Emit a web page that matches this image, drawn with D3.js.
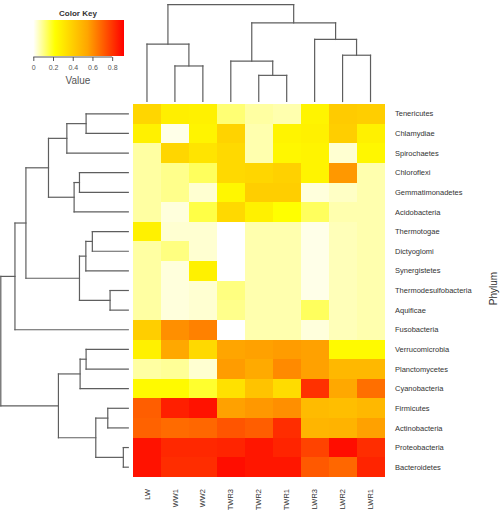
<!DOCTYPE html>
<html>
<head>
<meta charset="utf-8">
<script src="https://cdn.jsdelivr.net/npm/d3@7/dist/d3.min.js"></script>
<style>
  html, body { margin: 0; padding: 0; background: #fff; }
  svg { display: block; font-family: "Liberation Sans", Arial, sans-serif; }
</style>
</head>
<body>
<svg id="chart" width="501" height="515"></svg>
<script>
// ---------------- DATA ----------------
const columns = ["LW", "WW1", "WW2", "TWR3", "TWR2", "TWR1", "LWR3", "LWR2", "LWR1"];
const rows = ["Tenericutes", "Chlamydiae", "Spirochaetes", "Chloroflexi", "Gemmatimonadetes",
  "Acidobacteria", "Thermotogae", "Dictyoglomi", "Synergistetes", "Thermodesulfobacteria",
  "Aquificae", "Fusobacteria", "Verrucomicrobia", "Planctomycetes", "Cyanobacteria",
  "Firmicutes", "Actinobacteria", "Proteobacteria", "Bacteroidetes"];

// values per row, in column order
const Tenericutes          = [0.37, 0.28, 0.27, 0.12, 0.08, 0.07, 0.26, 0.41, 0.40];
const Chlamydiae           = [0.27, 0.02, 0.26, 0.38, 0.07, 0.26, 0.27, 0.40, 0.27];
const Spirochaetes         = [0.08, 0.37, 0.32, 0.36, 0.07, 0.25, 0.26, 0.04, 0.25];
const Chloroflexi          = [0.08, 0.10, 0.14, 0.36, 0.37, 0.39, 0.26, 0.58, 0.07];
const Gemmatimonadetes     = [0.08, 0.10, 0.04, 0.25, 0.40, 0.40, 0.03, 0.05, 0.07];
const Acidobacteria        = [0.08, 0.03, 0.16, 0.36, 0.27, 0.22, 0.14, 0.07, 0.07];
const Thermotogae          = [0.27, 0.04, 0.04, 0.00, 0.07, 0.07, 0.02, 0.06, 0.07];
const Dictyoglomi          = [0.08, 0.11, 0.04, 0.00, 0.07, 0.07, 0.02, 0.06, 0.07];
const Synergistetes        = [0.08, 0.03, 0.27, 0.00, 0.07, 0.07, 0.02, 0.06, 0.07];
const Thermodesulfobacteria= [0.08, 0.03, 0.04, 0.11, 0.07, 0.07, 0.02, 0.06, 0.07];
const Aquificae            = [0.08, 0.03, 0.04, 0.10, 0.07, 0.07, 0.14, 0.06, 0.07];
const Fusobacteria         = [0.40, 0.60, 0.63, 0.00, 0.07, 0.07, 0.03, 0.06, 0.07];
const Verrucomicrobia      = [0.27, 0.54, 0.36, 0.55, 0.56, 0.57, 0.56, 0.24, 0.24];
const Planctomycetes       = [0.08, 0.09, 0.04, 0.57, 0.53, 0.61, 0.56, 0.48, 0.48];
const Cyanobacteria        = [0.24, 0.24, 0.18, 0.33, 0.44, 0.35, 0.81, 0.54, 0.67];
const Firmicutes           = [0.71, 0.85, 0.88, 0.56, 0.58, 0.60, 0.47, 0.46, 0.48];
const Actinobacteria       = [0.70, 0.68, 0.69, 0.73, 0.71, 0.82, 0.49, 0.50, 0.56];
const Proteobacteria       = [0.88, 0.83, 0.83, 0.84, 0.87, 0.84, 0.77, 0.89, 0.82];
const Bacteroidetes        = [0.88, 0.82, 0.82, 0.89, 0.87, 0.87, 0.72, 0.69, 0.84];

const values = [Tenericutes, Chlamydiae, Spirochaetes, Chloroflexi, Gemmatimonadetes,
  Acidobacteria, Thermotogae, Dictyoglomi, Synergistetes, Thermodesulfobacteria,
  Aquificae, Fusobacteria, Verrucomicrobia, Planctomycetes, Cyanobacteria,
  Firmicutes, Actinobacteria, Proteobacteria, Bacteroidetes];

// colour key
const keyTicks = [0, 0.2, 0.4, 0.6, 0.8];
const keyDomain = [0, 0.92];
const colorStops = [0, 0.22, 0.55, 0.92];
const colorRange = ["#ffffff", "#ffff00", "#ffa500", "#ff0000"];

// dendrograms: [height, left, right] ; leaves are names
const colTree = [1.0,
  [0.592, "LW", [0.367, "WW1", "WW2"]],
  [0.813,
    [0.418, "TWR3", [0.27, "TWR2", "TWR1"]],
    [0.641, "LWR3", [0.478, "LWR2", "LWR1"]]]];

const rowTree = [1.0,
  [0.889,
    [0.803,
      [0.626,
        [0.482, [0.331, "Tenericutes", "Chlamydiae"], "Spirochaetes"],
        [0.425, [0.383, "Chloroflexi", "Gemmatimonadetes"], "Acidobacteria"]],
      [0.383,
        [0.333, [0.282, "Thermotogae", "Dictyoglomi"], "Synergistetes"],
        [0.143, "Thermodesulfobacteria", "Aquificae"]]],
    "Fusobacteria"],
  [0.548,
    [0.378, [0.331, "Verrucomicrobia", "Planctomycetes"], "Cyanobacteria"],
    [0.255,
      [0.161, "Firmicutes", "Actinobacteria"],
      [0.039, "Proteobacteria", "Bacteroidetes"]]]];

// ---------------- LAYOUT ----------------
const svg = d3.select("#chart");
const hm = { x0: 133, x1: 384.5, y0: 104, y1: 477 };

const x = d3.scaleBand().domain(columns).range([hm.x0, hm.x1]);
const y = d3.scaleBand().domain(rows).range([hm.y0, hm.y1]);
const color = d3.scaleLinear().domain(colorStops).range(colorRange).clamp(true);

// cells
const cells = [];
rows.forEach((r, i) => columns.forEach((c, j) => cells.push({ r, c, v: values[i][j] })));
svg.append("g").selectAll("rect").data(cells).join("rect")
  .attr("x", d => x(d.c))
  .attr("y", d => y(d.r))
  .attr("width", x.bandwidth() + 0.4)
  .attr("height", y.bandwidth() + 0.4)
  .attr("fill", d => color(d.v))
  .attr("shape-rendering", "crispEdges");

// row labels
svg.append("g").selectAll("text").data(rows).join("text")
  .attr("x", 395)
  .attr("y", d => y(d) + y.bandwidth() / 2)
  .attr("dy", "0.35em")
  .attr("font-size", 7.5)
  .attr("fill", "#333")
  .text(d => d);

// column labels
svg.append("g").selectAll("text").data(columns).join("text")
  .attr("transform", d => `translate(${x(d) + x.bandwidth() / 2},489) rotate(-90)`)
  .attr("dy", "0.35em")
  .attr("text-anchor", "end")
  .attr("font-size", 7.5)
  .attr("fill", "#333")
  .text(d => d);

// Phylum label
svg.append("text")
  .attr("transform", `translate(497,${(hm.y0 + hm.y1) / 2 - 2}) rotate(-90)`)
  .attr("text-anchor", "middle")
  .attr("font-size", 10)
  .attr("fill", "#333")
  .text("Phylum");

// ---------------- DENDROGRAMS ----------------
function toHier(node) {
  if (typeof node === "string") return { name: node, h: 0 };
  return { h: node[0], children: [toHier(node[1]), toHier(node[2])] };
}

function drawDendro(tree, leafPos, hScale, horizontal) {
  const root = d3.hierarchy(toHier(tree));
  root.eachAfter(n => {
    n.pos = n.children ? (n.children[0].pos + n.children[1].pos) / 2 : leafPos(n.data.name);
  });
  const segs = [];
  root.each(n => {
    if (!n.children) return;
    const hn = hScale(n.data.h);
    const [a, b] = n.children;
    segs.push([a.pos, hn, b.pos, hn]);
    n.children.forEach(c => segs.push([c.pos, hn, c.pos, hScale(c.data.h)]));
  });
  svg.append("g").selectAll("line").data(segs).join("line")
    .attr("x1", d => horizontal ? d[0] : d[1])
    .attr("y1", d => horizontal ? d[1] : d[0])
    .attr("x2", d => horizontal ? d[2] : d[3])
    .attr("y2", d => horizontal ? d[3] : d[2])
    .attr("stroke", "#5e5e5e")
    .attr("stroke-width", 1.2)
    .attr("stroke-linecap", "square");
}

// column dendrogram: height -> y
const colH = d3.scaleLinear().domain([0, 1]).range([101.5, 4.7]);
drawDendro(colTree, n => x(n) + x.bandwidth() / 2, colH, true);

// row dendrogram: height -> x
const rowH = d3.scaleLinear().domain([0, 1]).range([128.3, 0.8]);
drawDendro(rowTree, n => y(n) + y.bandwidth() / 2, rowH, false);

// ---------------- COLOUR KEY ----------------
const kx = d3.scaleLinear().domain(keyDomain).range([33.3, 124]);
const defs = svg.append("defs");
const grad = defs.append("linearGradient").attr("id", "keygrad")
  .attr("x1", "0%").attr("x2", "100%").attr("y1", "0%").attr("y2", "0%");
colorStops.forEach((s, i) => grad.append("stop")
  .attr("offset", (s - keyDomain[0]) / (keyDomain[1] - keyDomain[0]))
  .attr("stop-color", colorRange[i]));

svg.append("rect")
  .attr("x", kx(keyDomain[0])).attr("y", 20)
  .attr("width", kx(keyDomain[1]) - kx(keyDomain[0])).attr("height", 36)
  .attr("fill", "url(#keygrad)");

const keyAxis = svg.append("g").attr("transform", "translate(0,57)")
  .call(d3.axisBottom(kx).tickValues(keyTicks).tickFormat(d3.format("")).tickSize(4).tickSizeOuter(0));
keyAxis.select(".domain").attr("stroke", "#555").attr("d", `M${kx(0)},0H${kx(0.8)}`);
keyAxis.selectAll(".tick line").attr("stroke", "#555");
keyAxis.selectAll(".tick text").attr("font-size", 7).attr("fill", "#555")
  .attr("font-family", "Liberation Sans, Arial, sans-serif").attr("y", 8);

svg.append("text").attr("x", 78).attr("y", 15.5).attr("text-anchor", "middle")
  .attr("font-size", 8).attr("font-weight", "bold").attr("fill", "#333").text("Color Key");
svg.append("text").attr("x", 78).attr("y", 84).attr("text-anchor", "middle")
  .attr("font-size", 10).attr("fill", "#555").text("Value");
</script>
</body>
</html>
